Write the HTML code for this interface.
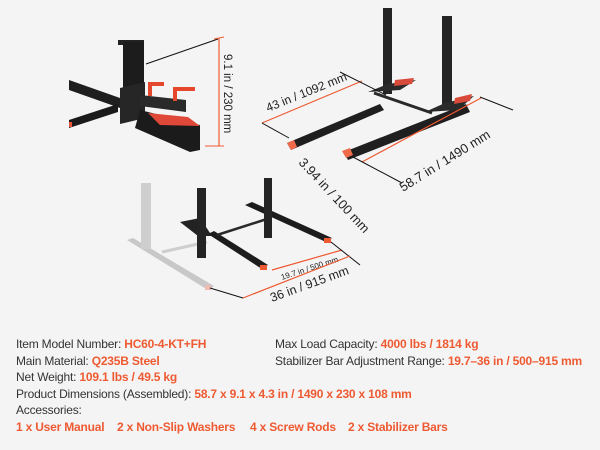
<!DOCTYPE html>
<html><head><style>
html,body{margin:0;padding:0;}
body{width:600px;height:450px;background:#f4f4f4;position:relative;overflow:hidden;font-family:"Liberation Sans",sans-serif;}
.t{position:absolute;font-size:12px;letter-spacing:-0.2px;color:#333;white-space:nowrap;line-height:14px;}
.o{color:#ee5a32;font-weight:bold;}
svg{position:absolute;left:0;top:0;}
</style></head><body>
<svg width="600" height="320" viewBox="0 0 600 320">
<g font-family="Liberation Sans, sans-serif" fill="#222">
<polygon points="69,80 120,98 120,108 69,90" fill="#1e1e1e"/>
<polygon points="69,120 118,104 118,112 69,128" fill="#1a1a1a"/>
<rect x="69" y="122" width="3" height="5" fill="#e8543a"/>
<rect x="118" y="40" width="26" height="5" fill="#222"/>
<rect x="123" y="42" width="21" height="50" fill="#1c1c1c"/>
<polygon points="120,88 145,82 145,118 120,124" fill="#262626"/>
<polygon points="140,95 186,100 186,112 140,106" fill="#2a2a2a"/>
<polygon points="140,110 200,125 200,150 190,152 135,128" fill="#1b1b1b"/>
<polygon points="148,113 188,117 200,126 160,125" fill="#e0493a"/>
<path d="M150 96 v-12 h14 M175 101 v-12 h20" stroke="#e4472c" stroke-width="4" fill="none"/>
<line x1="146" y1="64" x2="218" y2="39" stroke="#111" stroke-width="1"/>
<line x1="219" y1="38" x2="219" y2="146" stroke="#ee5a32" stroke-width="1.2"/>
<line x1="214" y1="39" x2="224" y2="37" stroke="#ee5a32"/><line x1="205" y1="146" x2="224" y2="146" stroke="#ee5a32"/>
<text x="0" y="0" font-size="11.5" transform="translate(224,54) rotate(90)" fill="#222">9.1 in / 230 mm</text>
<polygon points="287,143 380,104 384,110 291,150" fill="#1f1f1f"/>
<polygon points="287,143 294,140 297,147 291,150" fill="#ee6a4a"/>
<polygon points="344,152 466,104 470,112 348,160" fill="#1f1f1f"/>
<polygon points="342,151 350,148 353,155 346,158" fill="#ee6a4a"/>
<line x1="374" y1="93" x2="432" y2="113" stroke="#2a2a2a" stroke-width="3"/>
<rect x="383" y="8" width="9" height="86" fill="#242424"/>
<rect x="442" y="16" width="10" height="92" fill="#242424"/>
<polygon points="368,92 388,84 416,80 400,90" fill="#2a2a2a"/>
<polygon points="395,80 414,78 412,84 394,86" fill="#d84a3a"/>
<polygon points="425,112 445,103 474,96 458,110" fill="#2a2a2a"/>
<polygon points="455,98 472,94 470,101 454,104" fill="#d84a3a"/>
<line x1="262" y1="123" x2="362" y2="81" stroke="#ee5a32" stroke-width="1.2"/>
<line x1="340" y1="72" x2="386" y2="95" stroke="#111"/>
<line x1="262" y1="123" x2="289" y2="138" stroke="#111"/>
<text transform="translate(268,112) rotate(-22)" font-size="12">43 in / 1092 mm</text>
<line x1="362" y1="162" x2="481" y2="98" stroke="#ee5a32" stroke-width="1.2"/>
<line x1="480" y1="97" x2="513" y2="110" stroke="#111"/>
<line x1="353" y1="157" x2="402" y2="183" stroke="#111"/>
<text transform="translate(403,192) rotate(-32)" font-size="13">58.7 in / 1490 mm</text>
<text transform="translate(298,163) rotate(47)" font-size="13">3.94 in / 100 mm</text>
<g opacity="0.35">
<polygon points="127,240 133,238 214,286 208,290" fill="#777"/>
<rect x="141" y="183" width="10" height="66" fill="#888"/>
<line x1="162" y1="252" x2="207" y2="242" stroke="#888" stroke-width="3"/>
<rect x="205" y="285" width="6" height="5" fill="#e8543a"/>
</g>
<polygon points="208,234 214,231 268,265 262,269" fill="#1c1c1c"/>
<polygon points="180,222 200,218 212,236 198,236" fill="#222"/>
<polygon points="245,205 252,202 332,238 326,242" fill="#1c1c1c"/>
<line x1="217" y1="235" x2="270" y2="218" stroke="#2a2a2a" stroke-width="2.5"/>
<rect x="197" y="188" width="9" height="70" fill="#242424"/>
<rect x="264" y="178" width="8" height="60" fill="#242424"/>
<rect x="260" y="265" width="7" height="5" fill="#ee5a32"/>
<rect x="324" y="238" width="7" height="5" fill="#ee5a32"/>
<line x1="272" y1="270" x2="342" y2="250" stroke="#ee5a32" stroke-width="1.2"/>
<line x1="331" y1="242" x2="360" y2="265" stroke="#111"/>
<text transform="translate(282,280) rotate(-18)" font-size="8">19.7 in / 500 mm</text>
<line x1="243" y1="298" x2="350" y2="256" stroke="#ee5a32" stroke-width="1.2"/>
<line x1="210" y1="288" x2="243" y2="298" stroke="#111"/>
<text transform="translate(272,302) rotate(-20)" font-size="12.5">36 in / 915 mm</text>
</g>
</svg>
<div class="t" style="left:16px;top:337px">Item Model Number: <span class="o">HC60-4-KT+FH</span></div>
<div class="t" style="left:275px;top:337px">Max Load Capacity: <span class="o">4000 lbs / 1814 kg</span></div>
<div class="t" style="left:16px;top:354px">Main Material: <span class="o">Q235B Steel</span></div>
<div class="t" style="left:275px;top:354px">Stabilizer Bar Adjustment Range: <span class="o">19.7–36 in / 500–915 mm</span></div>
<div class="t" style="left:16px;top:370px">Net Weight: <span class="o">109.1 lbs / 49.5 kg</span></div>
<div class="t" style="left:16px;top:387px">Product Dimensions (Assembled): <span class="o">58.7 x 9.1 x 4.3 in / 1490 x 230 x 108 mm</span></div>
<div class="t" style="left:16px;top:403px">Accessories:</div>
<div class="t o" style="left:16px;top:420px">1 x User Manual</div>
<div class="t o" style="left:117px;top:420px">2 x Non-Slip Washers</div>
<div class="t o" style="left:250px;top:420px">4 x Screw Rods</div>
<div class="t o" style="left:348px;top:420px">2 x Stabilizer Bars</div>
</body></html>
